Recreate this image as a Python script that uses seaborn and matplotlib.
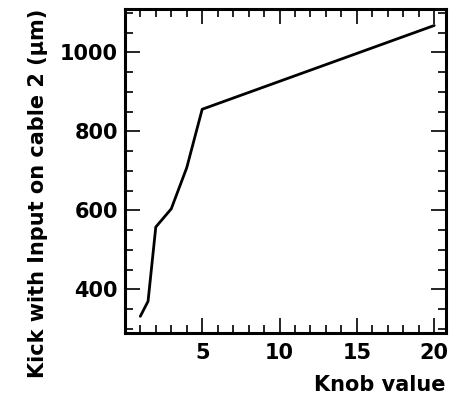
import matplotlib
matplotlib.use("Agg")
import matplotlib.pyplot as plt
import seaborn as sns
import pandas as pd
from matplotlib.ticker import MultipleLocator

knob = [1, 1.5, 2, 3, 4, 5, 20]
kick = [332, 370, 558, 604, 708, 856, 1068]
x_ticks = [5, 10, 15, 20]
y_ticks = [400, 600, 800, 1000]

sns.set_theme(style="ticks")
plt.rcParams['font.family'] = ['DejaVu Sans']
plt.rcParams['font.weight'] = 'bold'
plt.rcParams['text.color'] = 'black'
plt.rcParams['axes.labelcolor'] = 'black'
plt.rcParams['xtick.color'] = 'black'
plt.rcParams['ytick.color'] = 'black'

df = pd.DataFrame({"Knob value": knob, "Kick": kick})

fig = plt.figure(figsize=(4.54, 4.04), dpi=100)
ax = fig.add_axes([0.275, 0.176, 0.707, 0.802])
sns.lineplot(data=df, x="Knob value", y="Kick", color="black", linewidth=2.0, ax=ax)

ax.set_xlim(0, 20.75)
ax.set_ylim(290, 1110)
ax.set_xticks(x_ticks)
ax.set_yticks(y_ticks)
ax.xaxis.set_minor_locator(MultipleLocator(1))
ax.yaxis.set_minor_locator(MultipleLocator(50))
ax.tick_params(which='both', direction='in', top=True, right=True, color='black',
               labelcolor='black', width=1.2)
ax.tick_params(which='major', length=11, labelsize=15)
ax.tick_params(axis='x', which='major', pad=7)
ax.tick_params(axis='y', which='major', pad=5)
ax.tick_params(which='minor', length=5.5)
for lab in ax.get_xticklabels() + ax.get_yticklabels():
    lab.set_fontweight('bold')
for s in ax.spines.values():
    s.set_linewidth(2.2)
    s.set_color('black')

ax.set_xlabel("Knob value", fontsize=15, fontweight='bold', ha='right', color='black')
ax.xaxis.set_label_coords(1.0, -0.13)
ax.set_ylabel("Kick with Input on cable 2 (\u03bcm)", fontsize=15, fontweight='bold',
              ha='right', color='black')
ax.yaxis.set_label_coords(-0.24, 1.0)

fig.savefig("out.png", dpi=100)
